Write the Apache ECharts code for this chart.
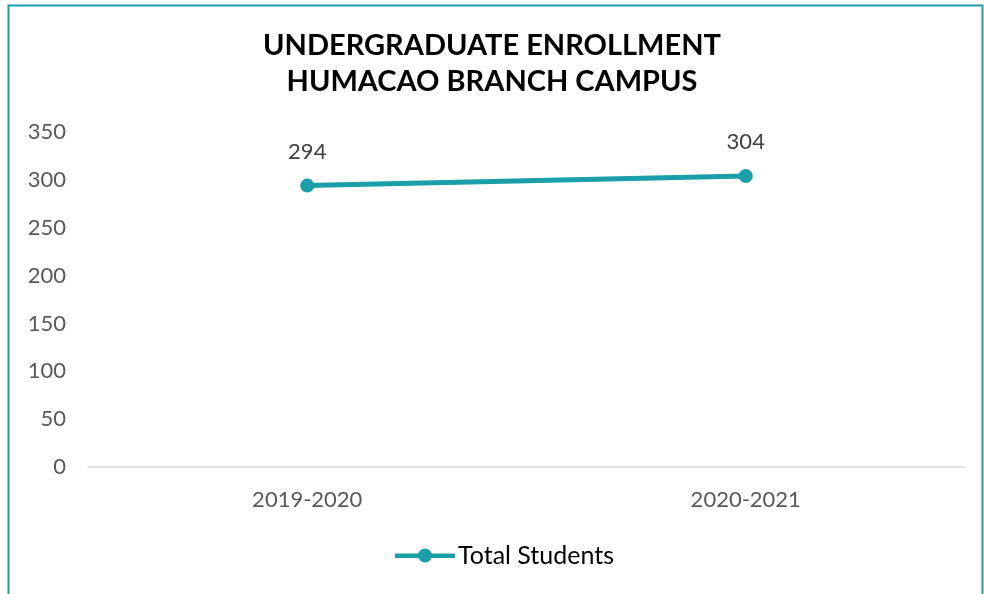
<!DOCTYPE html>
<html><head><meta charset="utf-8">
<script src="https://cdn.jsdelivr.net/npm/echarts@6/dist/echarts.min.js"></script>
<style>html,body{margin:0;padding:0;background:#fff}#c{width:984px;height:594px}</style>
</head><body><div id="c"></div>
<script>
var titleLines = ['UNDERGRADUATE ENROLLMENT', 'HUMACAO BRANCH CAMPUS'];
var categories = ['2019-2020', '2020-2021'];
var totalStudents = [294, 304];
var seriesName = 'Total Students';
var yTicks = {min: 0, max: 350, interval: 50};

var teal = '#1a9ea8';
var chart = echarts.init(document.getElementById('c'));
chart.setOption({
  animation: false,
  backgroundColor: '#fff',
  graphic: [{
    type: 'polyline', silent: true,
    shape: {points: [[8.5, 600], [8.5, 5.5], [982.5, 5.5], [982.5, 600]]},
    style: {stroke: teal, lineWidth: 2, fill: null}
  }],
  title: {
    text: titleLines.join('\n'), left: 'center', top: 23,
    textStyle: {fontFamily: 'Lato', fontWeight: 'bold', fontSize: 29, color: '#000', lineHeight: 36}
  },
  grid: {left: 88, right: 19, top: 132, bottom: 127},
  xAxis: {
    type: 'category', data: categories, boundaryGap: true,
    axisLine: {lineStyle: {color: '#d9d9d9', width: 1.5}},
    axisTick: {show: false},
    axisLabel: {color: '#595959', fontSize: 22, fontFamily: 'Lato', margin: 22}
  },
  yAxis: {
    type: 'value', min: yTicks.min, max: yTicks.max, interval: yTicks.interval,
    axisLine: {show: false}, axisTick: {show: false},
    splitLine: {show: false},
    axisLabel: {color: '#595959', fontSize: 22, fontFamily: 'Lato', margin: 22}
  },
  legend: {
    bottom: 21, left: 390, itemWidth: 60, itemHeight: 14, itemGap: 3,
    textStyle: {color: '#000', fontSize: 25, fontFamily: 'Lato', padding: [0, 0, 0, -2]},
    data: [{name: seriesName, icon: 'path://M0,5h60v4.5h-60z M23,7a7,7 0 1,1 14,0a7,7 0 1,1 -14,0z'}]
  },
  series: [{
    name: seriesName, type: 'line', data: totalStudents,
    lineStyle: {color: teal, width: 5},
    itemStyle: {color: teal},
    symbol: 'circle', symbolSize: 14,
    label: {show: true, position: 'top', distance: 16, color: '#404040', fontSize: 22, fontFamily: 'Lato'}
  }]
});
</script></body></html>
